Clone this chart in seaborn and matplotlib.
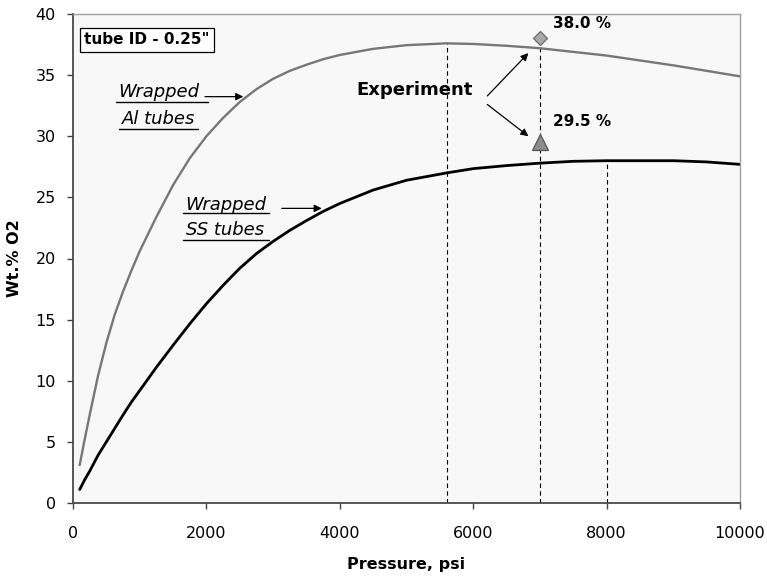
import matplotlib
matplotlib.use("Agg")
import matplotlib.pyplot as plt
import seaborn as sns
import pandas as pd

# Oxygen loading (wt.%) versus charging pressure for two wrapped-tube designs
pressure = [100, 175, 250, 375, 500, 625, 750, 875, 1000, 1250, 1500, 1750,
            2000, 2250, 2500, 2750, 3000, 3250, 3500, 3750, 4000, 4500, 5000,
            5600, 6000, 6500, 7000, 7500, 8000, 8500, 9000, 9500, 10000]
wt_al_tubes = [3.1, 5.2, 7.2, 10.4, 13.1, 15.4, 17.3, 19.0, 20.6, 23.4, 26.0,
               28.2, 30.0, 31.5, 32.8, 33.85, 34.7, 35.35, 35.85, 36.3, 36.65,
               37.15, 37.45, 37.6, 37.55, 37.4, 37.2, 36.9, 36.6, 36.2, 35.8,
               35.35, 34.9]
wt_ss_tubes = [1.1, 1.9, 2.6, 3.9, 5.0, 6.1, 7.2, 8.25, 9.2, 11.1, 12.9, 14.65,
               16.3, 17.8, 19.2, 20.4, 21.4, 22.3, 23.1, 23.85, 24.5, 25.6,
               26.4, 27.0, 27.35, 27.6, 27.8, 27.95, 28.0, 28.0, 28.0, 27.9,
               27.7]

# Measured values
exp_pressure = [7000, 7000]
exp_wt = [38.0, 29.5]
exp_labels = ["38.0 %", "29.5 %"]

# Reference drop lines
ref_pressure = [5600, 7000, 8000]
ref_top = [37.6, 38.0, 28.0]

x_ticks = [0, 2000, 4000, 6000, 8000, 10000]
y_ticks = [0, 5, 10, 15, 20, 25, 30, 35, 40]

sns.set_theme(style="ticks")
plt.rcParams["font.family"] = ["DejaVu Sans"]
plt.rcParams["text.color"] = "black"
plt.rcParams["axes.labelcolor"] = "black"

W, H = 767, 577
fig = plt.figure(figsize=(W / 100, H / 100), dpi=100)
fig.patch.set_facecolor("white")
ax = fig.add_axes([73 / W, 1 - 503 / H, 667 / W, 489 / H])
ax.set_facecolor("#f8f8f8")

curves = pd.DataFrame({"pressure": pressure,
                       "al": wt_al_tubes,
                       "ss": wt_ss_tubes})

ax.vlines(ref_pressure, 0, ref_top, colors="black",
          linestyles=(0, (4, 3)), linewidth=0.8, zorder=1)

sns.lineplot(data=curves, x="pressure", y="al", color="#777777",
             linewidth=1.7, ax=ax, zorder=2)
sns.lineplot(data=curves, x="pressure", y="ss", color="black",
             linewidth=2.0, ax=ax, zorder=2)

ax.plot(exp_pressure[0], exp_wt[0], linestyle="none", marker="D",
        markersize=7.5, markerfacecolor="#a8a8a8", markeredgecolor="#6a6a6a",
        markeredgewidth=0.9, zorder=4)
ax.plot(exp_pressure[1], exp_wt[1], linestyle="none", marker="^",
        markersize=11.5, markerfacecolor="#8c8c8c", markeredgecolor="#555555",
        markeredgewidth=0.9, zorder=4)

# value labels sit up and to the right of each marker
label_dx = 196
label_dy = [0.83, 1.34]
for px, wt, lab, dy in zip(exp_pressure, exp_wt, exp_labels, label_dy):
    ax.text(px + label_dx, wt + dy, lab, fontsize=11, fontweight="bold",
            ha="left", va="baseline")

ax.set_xlim(0, 10000)
ax.set_ylim(0, 40)
ax.set_xticks(x_ticks)
ax.set_yticks(y_ticks)
ax.set_xticklabels([str(t) for t in x_ticks])
ax.set_yticklabels([str(t) for t in y_ticks])

ax.tick_params(axis="both", direction="out", length=4.5, width=1.0,
               color="#444444", labelsize=11.5, labelcolor="black")
ax.tick_params(axis="x", pad=12)
ax.tick_params(axis="y", pad=8)

for side in ("left", "bottom"):
    ax.spines[side].set_color("#4a4a4a")
    ax.spines[side].set_linewidth(1.3)
for side in ("top", "right"):
    ax.spines[side].set_visible(True)
    ax.spines[side].set_color("#a0a0a0")
    ax.spines[side].set_linewidth(1.0)

ax.set_xlabel("Pressure, psi", fontsize=11.5, fontweight="bold",
              va="center")
ax.xaxis.set_label_coords(0.5, -(565 - 503) / 489)
ax.set_ylabel("Wt.% O2", fontsize=11.5, fontweight="bold",
              ha="center", va="center")
ax.yaxis.set_label_coords(-(73 - 15) / 667, 0.5)

# Tube size box
ax.text(1110, 37.9, 'tube ID - 0.25"', fontsize=11, fontweight="bold",
        ha="center", va="center",
        bbox=dict(boxstyle="square,pad=0.3", facecolor="white",
                  edgecolor="black", linewidth=0.9))

# Curve labels with underlines and pointer arrows
label_style = dict(fontsize=13, fontstyle="italic", ha="center",
                   va="baseline")
ax.text(1292, 33.19, "Wrapped", **label_style)
ax.plot([645, 2024], [32.77, 32.77], color="black", linewidth=1.0)
ax.text(1285, 30.98, "Al tubes", **label_style)
ax.plot([694, 1879], [30.57, 30.57], color="black", linewidth=1.0)

ax.text(2291, 24.0, "Wrapped", **label_style)
ax.plot([1645, 2943], [23.7, 23.7], color="black", linewidth=1.0)
ax.text(2286, 21.92, "SS tubes", **label_style)
ax.plot([1645, 2943], [21.51, 21.51], color="black", linewidth=1.0)

arrow = dict(arrowstyle="-|>", color="black", linewidth=0.9,
             mutation_scale=11, shrinkA=0, shrinkB=0)
ax.annotate("", xy=(2553, 33.24), xytext=(1979, 33.24), arrowprops=arrow)
ax.annotate("", xy=(3729, 24.1), xytext=(3129, 24.1), arrowprops=arrow)

ax.text(4253, 33.37, "Experiment", fontsize=13, fontweight="bold",
        ha="left", va="baseline")
ax.annotate("", xy=(6827, 36.8), xytext=(6212, 33.3), arrowprops=arrow)
ax.annotate("", xy=(6827, 30.0), xytext=(6212, 32.6), arrowprops=arrow)

fig.savefig("out.png", dpi=100)
